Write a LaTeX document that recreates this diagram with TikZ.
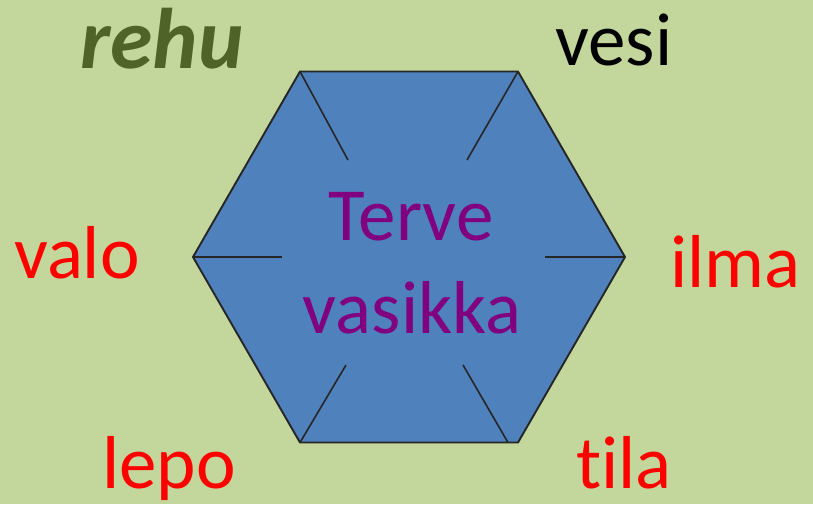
\documentclass[tikz,border=0pt]{standalone}
\usepackage{fontspec}
\setmainfont[Ligatures=NoCommon]{Carlito}
\definecolor{bg}{HTML}{C3D69B}
\definecolor{hexblue}{HTML}{4F81BD}
\definecolor{rehucol}{HTML}{4F6228}
\definecolor{centercol}{HTML}{800080}
\tikzset{
  lbl/.style={inner sep=0pt, anchor=base west, font=\fontsize{75}{90}\selectfont},
  redlbl/.style={lbl, text=red},
  centerlbl/.style={inner sep=0pt, anchor=base, text=centercol, font=\fontsize{75}{90}\selectfont},
  hexedge/.style={draw=black!85, line width=1.9pt, line join=miter, fill=hexblue},
  innerline/.style={draw=black!85, line width=1.6pt}
}
\begin{document}
\begin{tikzpicture}[x=1pt,y=-1pt]
\fill[bg] (0,0) rectangle (813,504);
\useasboundingbox (0,0) rectangle (813,504);
% hexagon vertices
\coordinate (A) at (300,71.5);
\coordinate (B) at (518,71.5);
\coordinate (C) at (625,257);
\coordinate (D) at (518,442.5);
\coordinate (E) at (300,442.5);
\coordinate (F) at (193,257);
\path[hexedge] (A) -- (B) -- (C) -- (D) -- (E) -- (F) -- cycle;
% inner ends
\coordinate (a) at (348,160);
\coordinate (b) at (467,160);
\coordinate (c) at (545,257);
\coordinate (d1) at (508,442.5);
\coordinate (d) at (463,365);
\coordinate (e) at (346,365);
\coordinate (f) at (282,257);
\draw[innerline] (A) -- (a);
\draw[innerline] (B) -- (b);
\draw[innerline] (C) -- (c);
\draw[innerline] (d1) -- (d);
\draw[innerline] (E) -- (e);
\draw[innerline] (F) -- (f);
% labels
\node[lbl, text=rehucol, font=\fontsize{86}{100}\selectfont\bfseries\itshape] (rehu) at (80,68) {rehu};
\node[lbl, text=black] (vesi) at (555,65) {vesi};
\node[redlbl] (valo) at (14,278) {valo};
\node[redlbl] (ilma) at (670,287) {ilma};
\node[redlbl] (lepo) at (102,488) {lepo};
\node[redlbl] (tila) at (576,488) {tila};
\node[centerlbl] (terve) at (411,240) {Terve};
\node[centerlbl] (vasikka) at (412,333) {vasikka};
\end{tikzpicture}
\end{document}
